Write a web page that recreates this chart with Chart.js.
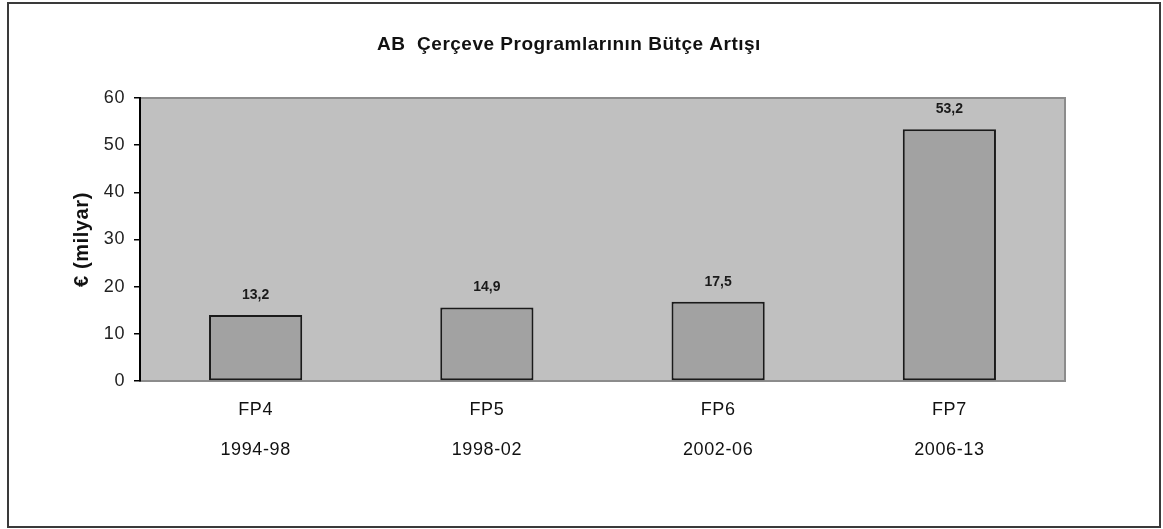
<!DOCTYPE html>
<html>
<head>
<meta charset="utf-8">
<script src="https://cdn.jsdelivr.net/npm/chart.js@4"></script>
<style>
  body { margin: 0; background: #fff; }
  #wrap { width: 1163px; height: 529px; position: relative; }
</style>
</head>
<body>
<div id="wrap"><canvas id="budget-chart"></canvas></div>
<script>
// values
var programmes = ['FP4', 'FP5', 'FP6', 'FP7'];
var periods = ['1994-98', '1998-02', '2002-06', '2006-13'];
var barHeights = [14.0, 15.6, 16.8, 53.4];
var valueLabels = ['13,2', '14,9', '17,5', '53,2'];
var yTicks = [0, 10, 20, 30, 40, 50, 60];

var chartTitle = 'AB  Çerçeve Programlarının Bütçe Artışı';
var yTitle = '€ (milyar)';

var FONT = '"Liberation Sans", Arial, sans-serif';
var SPACING = '0.6px';

// the original text is set a bit wider than Arial
var spacingPlugin = {
	id: 'spacing',
	beforeLayout: function(chart) { chart.ctx.letterSpacing = SPACING; },
	beforeDraw: function(chart) { chart.ctx.letterSpacing = SPACING; }
};

// gray plot background + frame, outer border, title
var framePlugin = {
	id: 'frame',
	beforeDraw: function(chart) {
		var ctx = chart.ctx, a = chart.chartArea;
		ctx.save();
		ctx.fillStyle = '#fff';
		ctx.fillRect(0, 0, chart.width, chart.height);
		ctx.fillStyle = '#c0c0c0';
		ctx.fillRect(a.left, a.top, a.right - a.left, a.bottom - a.top);
		ctx.strokeStyle = '#8c8c8c';
		ctx.lineWidth = 2;
		ctx.strokeRect(a.left, a.top, a.right - a.left, a.bottom - a.top);
		ctx.restore();
	},
	afterDraw: function(chart) {
		var ctx = chart.ctx;
		ctx.save();
		ctx.strokeStyle = '#3a3a3a';
		ctx.lineWidth = 2;
		ctx.strokeRect(8, 3, 1152, 524);
		ctx.fillStyle = '#111';
		ctx.font = 'bold 19px ' + FONT;
		ctx.letterSpacing = '0.5px';
		ctx.textAlign = 'center';
		ctx.textBaseline = 'middle';
		ctx.fillText(chartTitle, 569, 45);
		ctx.restore();
	}
};

var valuePlugin = {
	id: 'values',
	afterDatasetsDraw: function(chart) {
		var ctx = chart.ctx;
		var meta = chart.getDatasetMeta(0);
		ctx.save();
		ctx.fillStyle = '#1a1a1a';
		ctx.font = 'bold 14px ' + FONT;
		ctx.letterSpacing = '0px';
		ctx.textAlign = 'center';
		ctx.textBaseline = 'middle';
		meta.data.forEach(function(bar, i) {
			ctx.fillText(valueLabels[i], bar.x, bar.y - 20);
		});
		ctx.restore();
	}
};

var ctx = document.getElementById('budget-chart');
var budgetChart = new Chart(ctx, {
	type: 'bar',
	data: {
		labels: programmes.map(function(p, i) { return [p, periods[i]]; }),
		datasets: [{
			data: barHeights,
			backgroundColor: '#a2a2a2',
			borderColor: '#1a1a1a',
			borderWidth: 2,
			borderSkipped: false,
			barPercentage: 0.403,
			categoryPercentage: 1
		}]
	},
	options: {
		responsive: true,
		maintainAspectRatio: false,
		animation: false,
		layout: { padding: { top: 98, right: 98, bottom: 0, left: 0 } },
		plugins: {
			legend: { display: false },
			tooltip: { enabled: false }
		},
		scales: {
			x: {
				grid: { display: false, drawTicks: false },
				border: { display: true, color: '#8c8c8c', width: 2 },
				ticks: {
					color: '#111',
					padding: 9,
					font: { family: FONT, size: 18, lineHeight: 40 / 18 }
				},
				afterFit: function(s) { s.height = 148; }
			},
			y: {
				min: 0,
				max: 60,
				afterBuildTicks: function(s) {
					s.ticks = yTicks.map(function(v) { return { value: v }; });
				},
				grid: { drawOnChartArea: false, drawTicks: true, tickLength: 6, color: '#000', lineWidth: 1.5 },
				border: { display: true, color: '#000', width: 2 },
				ticks: {
					color: '#222',
					padding: 9,
					font: { family: FONT, size: 18 }
				},
				title: {
					display: true,
					text: yTitle,
					color: '#111',
					padding: { top: 70, bottom: 0 },
					font: { family: FONT, size: 20, weight: 'bold' }
				},
				afterFit: function(s) { s.width = 140; }
			}
		}
	},
	plugins: [spacingPlugin, framePlugin, valuePlugin]
});
</script>
</body>
</html>
